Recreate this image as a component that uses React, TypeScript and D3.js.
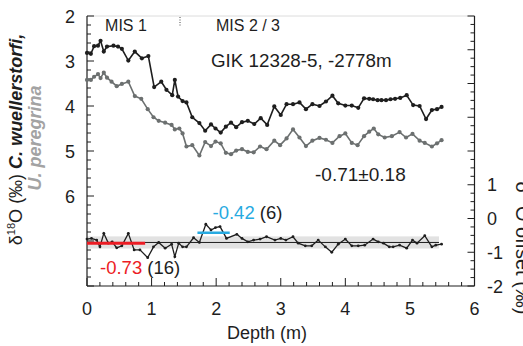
import React from "react";
import * as d3 from "d3";

// ---- data ----
const wuelDepth = [
  0.0, 0.06, 0.11, 0.17, 0.21, 0.26, 0.31, 0.41, 0.48, 0.54,
  0.64, 0.74, 0.85, 0.95, 1.04, 1.15, 1.23, 1.32, 1.36, 1.41,
  1.48, 1.54, 1.63, 1.74, 1.83, 1.92, 1.99, 2.07, 2.15, 2.23,
  2.31, 2.4, 2.49, 2.59, 2.69, 2.79, 2.9, 3.0, 3.09, 3.19,
  3.29, 3.39, 3.49, 3.6, 3.7, 3.8, 3.89, 4.0, 4.1, 4.2,
  4.29, 4.37, 4.43, 4.5, 4.56, 4.63, 4.7, 4.77, 4.85, 4.95,
  5.05, 5.15, 5.25, 5.34, 5.42, 5.49,
];
const wuelD18O = [
  2.82, 2.84, 2.67, 2.66, 2.55, 2.79, 2.68, 2.66, 2.68, 2.73,
  2.99, 2.79, 2.94, 2.89, 3.58, 3.46, 3.64, 3.76, 3.42, 3.79,
  3.89, 3.92, 4.25, 4.38, 4.55, 4.41, 4.5, 4.59, 4.46, 4.37,
  4.47, 4.36, 4.33, 4.4, 4.27, 4.42, 4.01, 4.2, 3.96, 3.96,
  3.92, 4.07, 3.96, 4.0, 3.9, 3.77, 3.94, 3.99, 3.99, 4.04,
  3.83, 3.84, 3.85, 3.87, 3.87, 3.87, 3.85, 3.84, 3.82, 3.76,
  3.98, 4.0, 4.29, 4.09, 4.07, 4.02,
];

const pereDepth = [
  0.0, 0.06, 0.11, 0.17, 0.21, 0.26, 0.31, 0.38, 0.46, 0.54,
  0.64, 0.74, 0.84, 0.94, 1.03, 1.11, 1.21, 1.31, 1.36, 1.43,
  1.48, 1.54, 1.63, 1.74, 1.83, 1.92, 1.99, 2.07, 2.15, 2.23,
  2.31, 2.4, 2.49, 2.58, 2.68, 2.78, 2.9, 2.99, 3.09, 3.19,
  3.29, 3.39, 3.49, 3.6, 3.7, 3.8, 3.91, 4.0, 4.1, 4.19,
  4.29, 4.37, 4.44, 4.51, 4.61, 4.72, 4.84, 4.94, 5.04, 5.15,
  5.23, 5.34, 5.42, 5.49,
];
const pereD18O = [
  3.42, 3.42, 3.35, 3.29, 3.38, 3.26, 3.37, 3.46, 3.56, 3.51,
  3.46, 3.78, 3.84, 4.07, 4.25, 4.33, 4.37, 4.42, 4.52, 4.5,
  4.61, 4.9, 4.87, 5.1, 4.8, 4.89, 4.79, 4.83, 5.04, 5.07,
  4.99, 4.96, 5.02, 5.03, 4.9, 4.96, 4.77, 4.87, 4.72, 4.52,
  4.7, 4.89, 4.77, 4.71, 4.75, 4.82, 4.67, 4.61, 4.82, 4.87,
  4.67, 4.57, 4.5, 4.63, 4.7, 4.67, 4.58, 4.7, 4.62, 4.77,
  4.82, 4.9, 4.83, 4.76,
];

const offsetDepth = [
  0.0, 0.07, 0.15, 0.2, 0.26, 0.33, 0.39, 0.46, 0.54, 0.64,
  0.73, 0.82, 0.94, 1.03, 1.11, 1.21, 1.31, 1.36, 1.42, 1.48,
  1.54, 1.65, 1.74, 1.84, 1.92, 1.99, 2.06, 2.16, 2.32, 2.4,
  2.49, 2.58, 2.68, 2.78, 2.91, 3.0, 3.08, 3.19, 3.27, 3.38,
  3.48, 3.58, 3.69, 3.79, 3.89, 4.0, 4.1, 4.2, 4.3, 4.43,
  4.51, 4.59, 4.68, 4.74, 4.84, 4.95, 5.04, 5.11, 5.23, 5.34,
  5.4, 5.49,
];
const offsetValue = [
  -0.61, -0.59, -0.64, -0.84, -0.44, -0.73, -0.69, -0.87, -0.81, -0.44,
  -0.93, -0.93, -1.16, -0.84, -0.71, -0.88, -0.76, -1.13, -0.73, -0.84,
  -0.84, -0.57, -0.71, -0.17, -0.34, -0.27, -0.24, -0.59, -0.47, -0.59,
  -0.69, -0.64, -0.61, -0.54, -0.64, -0.59, -0.64, -0.54, -0.73, -0.81,
  -0.81, -0.64, -0.84, -1.0, -0.76, -0.61, -0.81, -0.81, -0.79, -0.61,
  -0.69, -0.73, -0.84, -0.84, -0.79, -0.88, -0.64, -0.73, -0.51, -0.84,
  -0.79, -0.76,
];

// mean offset and spread
const meanOffset = -0.71;
const sdOffset = 0.18;
const meanExtent = [0, 5.45];
// segment means: [value, n, depth start, depth end]
const holoceneMean = [-0.73, 16, 0, 0.9];
const glacialMean = [-0.42, 6, 1.71, 2.21];

const leftTickLabels = [2, 3, 4, 5, 6];
const rightTickLabels = [1, 0, -1, -2];
const xTickLabels = [0, 1, 2, 3, 4, 5, 6];
const misLabels = ["MIS 1", "MIS 2 / 3"];
const misBoundary = 1.44;
const siteLabel = "GIK 12328-5, -2778m";

const FONT = "'Liberation Sans', Arial, Helvetica, sans-serif";
const BLACK = "#1e1e1e";
const GRAY = "#6c7070";
const RED = "#ec1c24";
const BLUE = "#27aae1";

export default function App() {
  const W = 523;
  const H = 346;
  const x = d3.scaleLinear().domain([0, 6]).range([87, 474.5]);
  const yL = d3.scaleLinear().domain([2, 8]).range([16, 286]);
  const yR = d3.scaleLinear().domain([-2, 6]).range([286, 16]);

  const wuel = wuelDepth.map((d, i) => [d, wuelD18O[i]] as [number, number]);
  const pere = pereDepth.map((d, i) => [d, pereD18O[i]] as [number, number]);
  const off = offsetDepth.map((d, i) => [d, offsetValue[i]] as [number, number]);

  const lineL = d3
    .line<[number, number]>()
    .x((p) => x(p[0]))
    .y((p) => yL(p[1]));
  const lineR = d3
    .line<[number, number]>()
    .x((p) => x(p[0]))
    .y((p) => yR(p[1]));

  const leftTicks = d3.range(0, 31).map((i) => 2 + i * 0.2);
  const rightTicks = d3.range(0, 33).map((i) => -2 + i * 0.25);
  const bottomTicks = d3.range(0, 31).map((i) => i * 0.2);
  const isInt = (v: number) => Math.abs(v - Math.round(v)) < 1e-6;

  const x0 = x(0);
  const x1 = x(6);
  const yTop = yL(2);
  const yBot = yL(8);

  return (
    <svg
      width={W}
      height={H}
      style={{ position: "absolute", left: 0, top: 0, background: "#fff" }}
      fontFamily={FONT}
    >
      {/* band and mean line */}
      <rect
        x={x(meanExtent[0])}
        y={yR(meanOffset + sdOffset)}
        width={x(meanExtent[1]) - x(meanExtent[0])}
        height={yR(meanOffset - sdOffset) - yR(meanOffset + sdOffset)}
        fill="#e2e2e2"
      />
      <line
        x1={x(meanExtent[0])}
        x2={x(meanExtent[1])}
        y1={yR(meanOffset)}
        y2={yR(meanOffset)}
        stroke={BLACK}
        strokeWidth={1}
      />

      {/* frame */}
      <line x1={x0} x2={x1} y1={yTop} y2={yTop} stroke="#dcdcdc" strokeWidth={1} />
      <line x1={x0} x2={x0} y1={yTop} y2={yBot} stroke={BLACK} strokeWidth={1.2} />
      <line x1={x1} x2={x1} y1={yTop} y2={yBot} stroke={BLACK} strokeWidth={1.2} />
      <line x1={x0} x2={x1} y1={yBot} y2={yBot} stroke={BLACK} strokeWidth={1.2} />

      {leftTicks.map((v, i) => (
        <line
          key={"lt" + i}
          x1={x0}
          x2={x0 + (isInt(v) ? 7 : 4)}
          y1={yL(v)}
          y2={yL(v)}
          stroke={BLACK}
          strokeWidth={1}
        />
      ))}
      {rightTicks.map((v, i) => (
        <line
          key={"rt" + i}
          x1={x1}
          x2={x1 - (isInt(v) ? 7 : 4)}
          y1={yR(v)}
          y2={yR(v)}
          stroke={BLACK}
          strokeWidth={1}
        />
      ))}
      {bottomTicks.map((v, i) => (
        <line
          key={"bt" + i}
          x1={x(v)}
          x2={x(v)}
          y1={yBot}
          y2={yBot - (isInt(v) ? 8 : 4)}
          stroke={BLACK}
          strokeWidth={1}
        />
      ))}

      {/* tick labels */}
      {leftTickLabels.map((v) => (
        <text key={"ll" + v} x={75} y={yL(v) + 6.5} fontSize={18} textAnchor="end" fill={BLACK}>
          {v}
        </text>
      ))}
      {rightTickLabels.map((v) => (
        <text key={"rl" + v} x={487} y={yR(v) + 6.5} fontSize={18} textAnchor="start" fill={BLACK}>
          {v}
        </text>
      ))}
      {xTickLabels.map((v) => (
        <text key={"xl" + v} x={x(v)} y={315} fontSize={18} textAnchor="middle" fill={BLACK}>
          {v}
        </text>
      ))}
      <text x={267} y={339} fontSize={18} textAnchor="middle" fill={BLACK}>
        Depth (m)
      </text>

      {/* MIS labels */}
      <line
        x1={x(misBoundary)}
        x2={x(misBoundary)}
        y1={17}
        y2={27}
        stroke="#444"
        strokeWidth={1}
        strokeDasharray="1,1.5"
      />
      <text x={126} y={30.5} fontSize={16} textAnchor="middle" fill={BLACK}>
        {misLabels[0]}
      </text>
      <text x={248} y={30.5} fontSize={16} textAnchor="middle" fill={BLACK}>
        {misLabels[1]}
      </text>
      <text x={211} y={66.5} fontSize={18.8} fill={BLACK}>
        {siteLabel}
      </text>

      {/* d18O series */}
      <path d={lineL(pere) || ""} fill="none" stroke={GRAY} strokeWidth={1.6} />
      {pere.map((p, i) => (
        <circle key={"pc" + i} cx={x(p[0])} cy={yL(p[1])} r={2.1} fill={GRAY} />
      ))}
      <path d={lineL(wuel) || ""} fill="none" stroke={BLACK} strokeWidth={1.6} />
      {wuel.map((p, i) => (
        <circle key={"wc" + i} cx={x(p[0])} cy={yL(p[1])} r={2.1} fill={BLACK} />
      ))}

      {/* offset series */}
      <path d={lineR(off) || ""} fill="none" stroke={BLACK} strokeWidth={1.3} />
      {off.map((p, i) => (
        <circle key={"oc" + i} cx={x(p[0])} cy={yR(p[1])} r={1.4} fill={BLACK} />
      ))}

      {/* segment means */}
      <line
        x1={x(holoceneMean[2])}
        x2={x(holoceneMean[3])}
        y1={yR(holoceneMean[0])}
        y2={yR(holoceneMean[0])}
        stroke={RED}
        strokeWidth={3}
      />
      <line
        x1={x(glacialMean[2])}
        x2={x(glacialMean[3])}
        y1={yR(glacialMean[0])}
        y2={yR(glacialMean[0])}
        stroke={BLUE}
        strokeWidth={2.6}
      />

      <text x={315} y={180.5} fontSize={19} fill={BLACK}>
        {meanOffset.toFixed(2)}±{sdOffset.toFixed(2)}
      </text>
      <text x={100} y={273.5} fontSize={18.5} fill={BLACK}>
        <tspan fill={RED}>{holoceneMean[0].toFixed(2)}</tspan>
        <tspan> ({holoceneMean[1]})</tspan>
      </text>
      <text x={212.5} y={218.5} fontSize={18.5} fill={BLACK}>
        <tspan fill={BLUE}>{glacialMean[0].toFixed(2)}</tspan>
        <tspan> ({glacialMean[1]})</tspan>
      </text>

      {/* left axis title */}
      <text
        transform="translate(21.5,139.5) rotate(-90)"
        fontSize={18}
        textAnchor="middle"
        fill={BLACK}
      >
        <tspan>δ</tspan>
        <tspan fontSize={11} dy={-7}>18</tspan>
        <tspan dy={7}>O (‰) </tspan>
        <tspan fontWeight="bold" fontStyle="italic">C. wuellerstorfi,</tspan>
      </text>
      <text
        transform="translate(41,138) rotate(-90)"
        fontSize={18}
        textAnchor="middle"
        fill="#a3a3a3"
        fontWeight="bold"
        fontStyle="italic"
      >
        U. peregrina
      </text>

      {/* right axis title */}
      <text
        transform="translate(516,248) rotate(90)"
        fontSize={20}
        textAnchor="middle"
        fill={BLACK}
      >
        <tspan>δ</tspan>
        <tspan fontSize={12} dy={-8}>18</tspan>
        <tspan dy={8}>O offset (‰)</tspan>
      </text>
    </svg>
  );
}
